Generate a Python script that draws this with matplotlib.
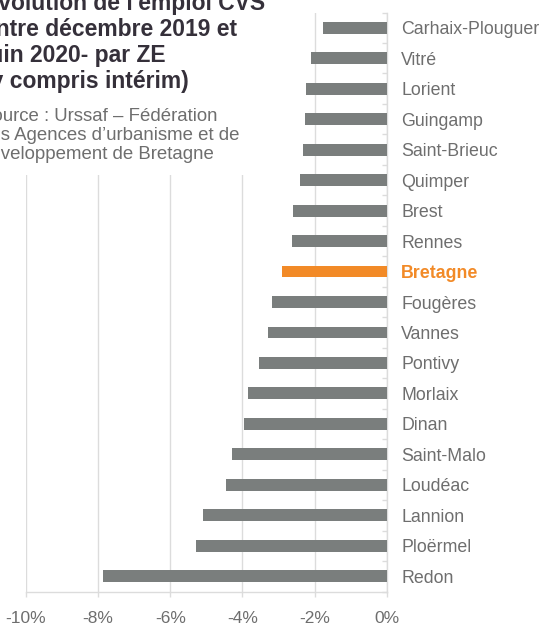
import matplotlib
matplotlib.use("Agg")
import matplotlib.pyplot as plt
from matplotlib.patches import Rectangle
from matplotlib.ticker import FuncFormatter, MultipleLocator
import numpy as np

categories = ["Carhaix-Plouguer", "Vitré", "Lorient", "Guingamp", "Saint-Brieuc",
              "Quimper", "Brest", "Rennes", "Bretagne", "Fougères", "Vannes",
              "Pontivy", "Morlaix", "Dinan", "Saint-Malo", "Loudéac", "Lannion",
              "Ploërmel", "Redon"]
values = [-1.76, -2.10, -2.24, -2.26, -2.33, -2.40, -2.60, -2.63, -2.90, -3.19,
          -3.29, -3.54, -3.85, -3.96, -4.29, -4.45, -5.08, -5.28, -7.86]
highlight = "Bretagne"
title_lines = ["Évolution de l'emploi CVS", "entre décembre 2019 et",
               "juin 2020- par ZE", "(y compris intérim)"]
source_lines = ["Source : Urssaf – Fédération",
                "des Agences d’urbanisme et de",
                "développement de Bretagne"]

GRAY = "#7a7e7d"
ORANGE = "#f28a27"
LABEL = "#6e6e6e"
GRID = "#dcdcdc"
TITLE = "#35303a"

plt.rcParams['font.family'] = ['Liberation Sans', 'DejaVu Sans']

W, H = 542, 626
fig = plt.figure(figsize=(W / 100, H / 100), dpi=100)
ax = fig.add_axes([26 / W, 1 - 591.5 / H, (386.7 - 26) / W, (591.5 - 12.5) / H])

y = np.arange(len(categories))
colors = [ORANGE if c == highlight else GRAY for c in categories]
ax.barh(y, values, height=0.39, color=colors, zorder=3)

ax.set_xlim(-10, 0)
ax.set_ylim(len(categories) - 0.5, -0.5)
ax.xaxis.set_major_locator(MultipleLocator(2))
ax.xaxis.set_major_formatter(FuncFormatter(lambda v, p: f"{v:.0f}%".replace("-0%", "0%")))
ax.grid(axis='x', color=GRID, linewidth=1, zorder=0)

ax.set_yticks(y)
ax.set_yticklabels(categories)
ax.set_yticks(np.arange(len(categories) + 1) - 0.5, minor=True)
ax.tick_params(axis='y', which='major', left=False, right=False, length=0,
               labelleft=False, labelright=True, pad=10.5, labelsize=12.8,
               labelcolor=LABEL)
ax.tick_params(axis='y', which='minor', left=False, right=True, direction='in',
               length=3.6, color=GRID, width=1)
ax.tick_params(axis='x', which='major', length=3.6, color=GRID, width=1,
               labelsize=12.5, labelcolor=LABEL, pad=10.3)
for lbl in ax.get_yticklabels():
    if lbl.get_text() == highlight:
        lbl.set_color(ORANGE)
        lbl.set_fontweight('bold')

for s in ['top', 'left']:
    ax.spines[s].set_visible(False)
for s in ['right', 'bottom']:
    ax.spines[s].set_color(GRID)
    ax.spines[s].set_linewidth(1)

# white backdrop behind the title block
fig.patches.append(Rectangle((0, 1 - 175 / H), 275 / W, 175 / H,
                             transform=fig.transFigure, facecolor='white',
                             edgecolor='none', zorder=5))

title_base = [10, 36, 62, 88]
for txt, yb in zip(title_lines, title_base):
    fig.text(-17 / W, 1 - yb / H, txt, fontsize=16.5, fontweight='bold',
             color=TITLE, va='baseline', ha='left', zorder=6)

source_base = [121, 140, 159]
for txt, yb in zip(source_lines, source_base):
    fig.text(-20 / W, 1 - yb / H, txt, fontsize=13.4, color=LABEL,
             va='baseline', ha='left', zorder=6)

fig.savefig("out.png", dpi=100)
